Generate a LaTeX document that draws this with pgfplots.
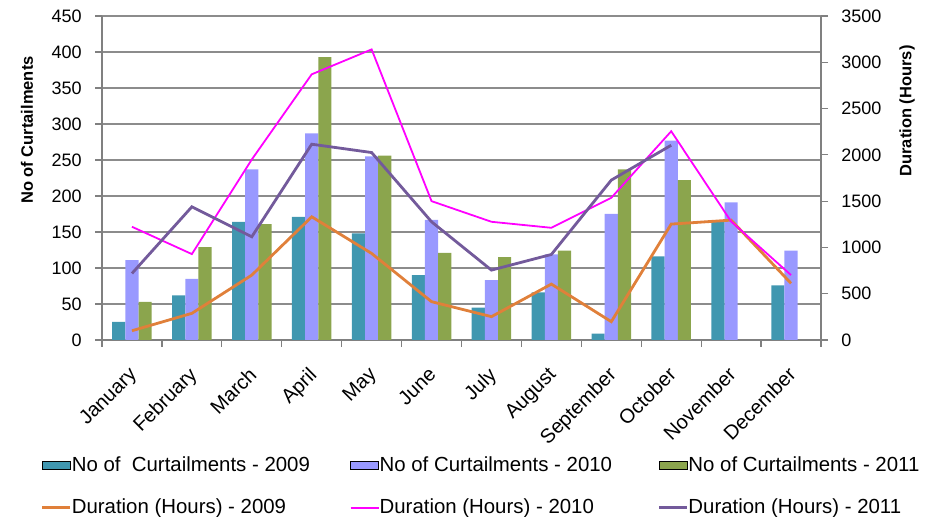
\documentclass[border=0pt]{standalone}
\usepackage{fontspec}
\setmainfont{Liberation Sans}
\usepackage{pgfplots}
\pgfplotsset{compat=1.18}

\definecolor{cur09}{HTML}{4097B0}
\definecolor{cur10}{HTML}{9999FF}
\definecolor{cur11}{HTML}{8BA54D}
\definecolor{dur09}{HTML}{E0803A}
\definecolor{dur10}{HTML}{FF00FF}
\definecolor{dur11}{HTML}{735A9B}
\definecolor{gridgray}{HTML}{8C8C8C}
\definecolor{axgray}{HTML}{808080}

\newcommand{\legtext}[1]{\makebox[138pt][l]{#1}}

\begin{document}
\begin{tikzpicture}
\path[use as bounding box] (0,0) rectangle (462.5pt,258.5pt);

% ---- number of curtailments (left axis, bars)
\begin{axis}[
  at={(51pt,88.5pt)}, anchor=south west,
  scale only axis, width=359.5pt, height=162pt,
  xmin=0.5, xmax=12.5, ymin=0, ymax=450,
  axis x line*=bottom, axis y line*=left,
  axis line style={-, draw=axgray, line width=0.6pt},
  tick align=outside,
  xtick={1,...,12},
  xticklabels={January,February,March,April,May,June,July,August,September,October,November,December},
  major x tick style={draw=none},
  minor xtick={0.5,1.5,...,12.5},
  minor tick length=3.5pt,
  minor x tick style={draw=axgray, line width=0.6pt},
  xticklabel style={rotate=45, anchor=north east, inner sep=0pt, yshift=-5pt, xshift=-8pt,
    font=\fontsize{10}{11}\selectfont},
  ytick={0,50,...,450},
  major tick length=3.5pt,
  y tick style={draw=axgray, line width=0.6pt},
  yticklabel style={font=\fontsize{9}{10}\selectfont, inner sep=0pt, xshift=-6.5pt},
  /pgf/number format/assume math mode=true,
  ymajorgrids, grid style={draw=gridgray, line width=0.6pt},
  ylabel style={at={(axis description cs:-0.1043,0.648)}, anchor=center,
    font=\bfseries\fontsize{8.25}{9}\selectfont},
  ylabel={No of Curtailments},
]
\addplot[ybar, bar width=0.22, bar shift=-0.22, fill=cur09, draw=none] coordinates {
  (1,25) (2,62) (3,164) (4,171) (5,148) (6,90) (7,45) (8,66) (9,9) (10,116) (11,164) (12,76)};
\addplot[ybar, bar width=0.22, bar shift=0, fill=cur10, draw=none] coordinates {
  (1,111) (2,85) (3,237) (4,287) (5,255) (6,167) (7,83) (8,119) (9,175) (10,277) (11,191) (12,124)};
\addplot[ybar, bar width=0.22, bar shift=0.22, fill=cur11, draw=none] coordinates {
  (1,53) (2,129) (3,161) (4,393) (5,256) (6,121) (7,115) (8,124) (9,237) (10,222)};
\end{axis}

% ---- duration in hours (right axis, lines) and the legend
\begin{axis}[
  at={(51pt,88.5pt)}, anchor=south west,
  scale only axis, width=359.5pt, height=162pt,
  xmin=0.5, xmax=12.5, ymin=0, ymax=3500,
  hide x axis,
  axis y line*=right,
  axis line style={-, draw=axgray, line width=0.6pt},
  tick align=outside,
  ytick={0,500,...,3500},
  major tick length=3.5pt,
  y tick style={draw=axgray, line width=0.6pt},
  yticklabel style={font=\fontsize{9}{10}\selectfont, inner sep=0pt, xshift=6.5pt},
  /pgf/number format/assume math mode=true,
  /pgf/number format/1000 sep={},
  ylabel style={at={(axis description cs:1.1196,0.707)}, anchor=center,
    font=\bfseries\fontsize{8.25}{9}\selectfont},
  ylabel={Duration (Hours)},
  legend columns=3,
  legend cell align=left,
  legend style={at={(axis description cs:-0.0848,-0.4537)}, anchor=west,
    draw=none, fill=none, inner sep=0pt, outer sep=0pt,
    font=\fontsize{10.2}{11}\selectfont,
    row sep=11.5pt,
    nodes={inner sep=0pt, text height=7.4pt, text depth=2pt},
    /tikz/every even column/.append style={column sep=1pt}},
  swatchbar/.style={legend image code/.code={\fill[##1] (0pt,-1.5pt) rectangle (14pt,2.2pt);}},
  swatchline/.style={legend image code/.code={\draw[##1] (0pt,0pt) -- (14pt,0pt);}},
]
\addlegendimage{swatchbar, fill=cur09}
\addlegendentry{\legtext{No of\ \ Curtailments - 2009}}
\addlegendimage{swatchbar, fill=cur10}
\addlegendentry{\legtext{No of Curtailments - 2010}}
\addlegendimage{swatchbar, fill=cur11}
\addlegendentry{No of Curtailments - 2011}

\addplot[swatchline, dur09, line width=1.4pt] coordinates {
  (1,100) (2,288) (3,701) (4,1331) (5,935) (6,414) (7,252) (8,604) (9,198) (10,1252) (11,1295) (12,612)};
\addlegendentry{\legtext{Duration (Hours) - 2009}}
\addplot[swatchline, dur10, line width=0.9pt] coordinates {
  (1,1223) (2,928) (3,1950) (4,2870) (5,3139) (6,1500) (7,1277) (8,1212) (9,1536) (10,2255) (11,1280) (12,701)};
\addlegendentry{\legtext{Duration (Hours) - 2010}}
\addplot[swatchline, dur11, line width=1.4pt] coordinates {
  (1,719) (2,1439) (3,1115) (4,2115) (5,2025) (6,1277) (7,755) (8,924) (9,1727) (10,2104)};
\addlegendentry{Duration (Hours) - 2011}
\end{axis}
\end{tikzpicture}
\end{document}
